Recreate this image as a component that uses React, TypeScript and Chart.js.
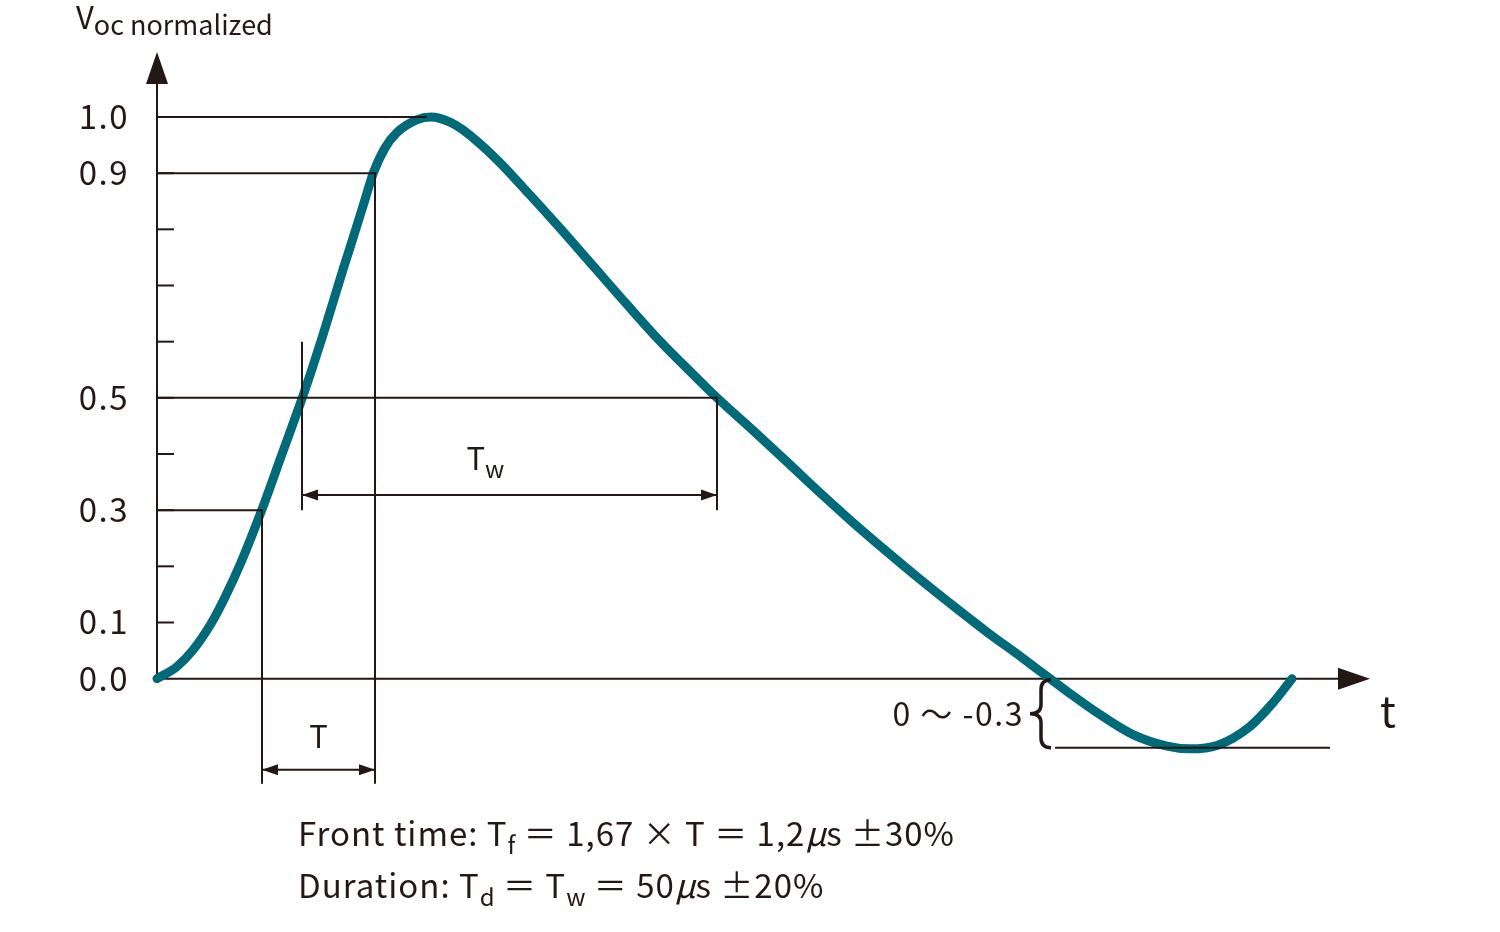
import { useEffect, useRef } from 'react';
import { Chart, registerables } from 'chart.js';

Chart.register(...registerables);

// waveform samples (t in arbitrary units, Voc normalized)
const tValues = [
  0, 1.97, 3.6, 5.47, 6.8, 8.47, 10.47, 12.5, 14.53, 15.57, 16.63, 17.63, 18.63, 19.7, 20.7,
  21.63, 22.8, 23.97, 25.97, 27.4, 29.3, 30.6, 34.0, 37.3, 40.6, 43.6, 47.0, 50.3, 53.6, 56.0,
  59.6, 63.0, 66.3, 69.6, 73.0, 76.3, 79.6, 83.0, 86.3, 89.3, 91.0, 94.3, 97.6, 101.0, 103.3,
  106.0, 109.3, 111.6, 113.5,
];
const vocValues = [
  0, 0.021, 0.051, 0.1, 0.145, 0.21, 0.3, 0.4, 0.5, 0.555, 0.614, 0.672, 0.73, 0.79, 0.847,
  0.9, 0.945, 0.972, 0.995, 1.0, 0.991, 0.977, 0.924, 0.861, 0.796, 0.735, 0.666, 0.601, 0.542, 0.5,
  0.442, 0.386, 0.331, 0.278, 0.226, 0.177, 0.13, 0.083, 0.04, 0, -0.0225, -0.064, -0.0996, -0.12, -0.125,
  -0.119, -0.085, -0.043, 0,
];

// axis
const yTickMarks = [0.1, 0.2, 0.3, 0.4, 0.5, 0.6, 0.7, 0.8, 0.9];
const yTickLabels = ['1.0', '0.9', '0.5', '0.3', '0.1', '0.0'];
const T_MAX = 121.3;
const V_MIN = -0.2;
const V_MAX = 1.1157;

// guide levels and where they meet the curve
const guideLevels = [1.0, 0.9, 0.5, 0.3];
const guideTimes = [27.0, 21.8, 56.0, 10.5];
const guideDropTo = [null, -0.187, 0.3, -0.187];
const twStartTime = 14.5;
const twMarkerTop = 0.6;
const twArrowLevel = 0.327;
const tArrowLevel = -0.162;
const undershoot = -0.123;
const undershootTimes = [89.8, 117.3];
const braceTime = 89.4;

const ink = '#231815';
const teal = '#006a78';
const FONT = '"Noto Sans CJK JP", "Noto Sans", sans-serif';

type Part = { text: string; size: number; dy?: number; italic?: boolean; spacing?: number };

function setFont(ctx: CanvasRenderingContext2D, p: Part) {
  ctx.font = `${p.italic ? 'italic ' : ''}${p.size}px ${FONT}`;
  (ctx as any).letterSpacing = `${p.spacing || 0}px`;
}

function richWidth(ctx: CanvasRenderingContext2D, parts: Part[]) {
  let w = 0;
  for (const p of parts) {
    setFont(ctx, p);
    w += ctx.measureText(p.text).width;
  }
  return w;
}

function drawRich(ctx: CanvasRenderingContext2D, parts: Part[], x: number, y: number, align = 'left') {
  let cx = x;
  const w = richWidth(ctx, parts);
  if (align === 'center') cx = x - w / 2;
  if (align === 'right') cx = x - w;
  ctx.textAlign = 'left';
  ctx.textBaseline = 'alphabetic';
  for (const p of parts) {
    setFont(ctx, p);
    ctx.fillText(p.text, cx, y + (p.dy || 0));
    cx += ctx.measureText(p.text).width;
  }
  (ctx as any).letterSpacing = '0px';
}

function seg(ctx: CanvasRenderingContext2D, x1: number, y1: number, x2: number, y2: number) {
  ctx.beginPath();
  ctx.moveTo(x1, y1);
  ctx.lineTo(x2, y2);
  ctx.stroke();
}

// filled arrow head, tip at (x, y), pointing in direction (dx, dy)
function head(ctx: CanvasRenderingContext2D, x: number, y: number, dx: number, dy: number, len: number, half: number) {
  const nx = -dy;
  const ny = dx;
  ctx.beginPath();
  ctx.moveTo(x, y);
  ctx.lineTo(x - dx * len + nx * half, y - dy * len + ny * half);
  ctx.lineTo(x - dx * len - nx * half, y - dy * len - ny * half);
  ctx.closePath();
  ctx.fill();
}

const diagramPlugin = {
  id: 'diagram',
  beforeDatasetsDraw(chart: any) {
    const { ctx, scales } = chart;
    const px = (v: number) => scales.x.getPixelForValue(v);
    const py = (v: number) => scales.y.getPixelForValue(v);
    const x0 = px(0);
    const y0 = py(0);
    ctx.save();
    ctx.strokeStyle = ink;
    ctx.fillStyle = ink;
    ctx.lineWidth = 2;

    // axes with arrows
    seg(ctx, x0, y0, x0, py(V_MAX) + 28);
    head(ctx, x0, py(V_MAX), 0, -1, 32, 11);
    seg(ctx, x0, y0, px(T_MAX) - 28, y0);
    head(ctx, px(T_MAX), y0, 1, 0, 32, 11);

    // tick marks
    yTickMarks.forEach((v) => seg(ctx, x0, py(v), x0 + 17, py(v)));

    // tick labels
    yTickLabels.forEach((s) => {
      drawRich(ctx, [{ text: s, size: 33, spacing: 1.5 }], x0 - 28, py(parseFloat(s)) + 12, 'right');
    });
    ctx.restore();
  },
  afterDatasetsDraw(chart: any) {
    const { ctx, scales } = chart;
    const px = (v: number) => scales.x.getPixelForValue(v);
    const py = (v: number) => scales.y.getPixelForValue(v);
    const x0 = px(0);
    ctx.save();
    ctx.strokeStyle = ink;
    ctx.fillStyle = ink;
    ctx.lineWidth = 2;

    // level lines and drops
    guideLevels.forEach((v, i) => {
      seg(ctx, x0, py(v), px(guideTimes[i]), py(v));
      const d = guideDropTo[i];
      if (d !== null) seg(ctx, px(guideTimes[i]), py(v) - 1, px(guideTimes[i]), py(d));
    });
    seg(ctx, px(twStartTime), py(twMarkerTop), px(twStartTime), py(0.3));

    // Tw dimension
    const twY = py(twArrowLevel);
    seg(ctx, px(twStartTime), twY, px(guideTimes[2]), twY);
    head(ctx, px(twStartTime), twY, -1, 0, 16, 5.5);
    head(ctx, px(guideTimes[2]), twY, 1, 0, 16, 5.5);

    // T dimension
    const tY = py(tArrowLevel);
    seg(ctx, px(guideTimes[3]), tY, px(guideTimes[1]), tY);
    head(ctx, px(guideTimes[3]), tY, -1, 0, 16, 5.5);
    head(ctx, px(guideTimes[1]), tY, 1, 0, 16, 5.5);

    // undershoot line
    seg(ctx, px(undershootTimes[0]), py(undershoot), px(undershootTimes[1]), py(undershoot));

    // brace
    const xr = px(braceTime);
    const xm = xr - 10;
    const xt = xr - 21;
    const yt = py(0) + 1;
    const yb = py(undershoot);
    const ym = (yt + yb) / 2;
    ctx.lineWidth = 3.5;
    ctx.beginPath();
    ctx.moveTo(xr, yt);
    ctx.quadraticCurveTo(xm, yt, xm, yt + 10);
    ctx.lineTo(xm, ym - 9);
    ctx.quadraticCurveTo(xm, ym, xt, ym);
    ctx.quadraticCurveTo(xm, ym, xm, ym + 9);
    ctx.lineTo(xm, yb - 10);
    ctx.quadraticCurveTo(xm, yb, xr, yb);
    ctx.stroke();

    // texts
    drawRich(ctx, [{ text: '0 ～ -0.3', size: 32, spacing: 1.5 }], xt - 6, ym + 12, 'right');
    drawRich(ctx, [{ text: 't', size: 42 }], px(T_MAX) + 18, py(0) + 48, 'center');
    drawRich(ctx, [{ text: 'T', size: 31 }], (px(guideTimes[3]) + px(guideTimes[1])) / 2, tY - 22, 'center');
    drawRich(
      ctx,
      [
        { text: 'T', size: 31 },
        { text: 'w', size: 24, dy: 8 },
      ],
      (px(twStartTime) + px(guideTimes[2])) / 2 - 43,
      twY - 25,
    );
    drawRich(
      ctx,
      [
        { text: 'V', size: 31 },
        { text: 'oc normalized', size: 27, dy: 6 },
      ],
      x0 - 81,
      29,
    );
    drawRich(
      ctx,
      [
        { text: 'Front time: T', size: 33, spacing: 1 },
        { text: 'f', size: 24, dy: 8 },
        { text: ' ＝ 1,67 × T ＝ 1,2', size: 33, spacing: 1 },
        { text: 'μ', size: 33, italic: true },
        { text: 's ±30%', size: 33, spacing: 1 },
      ],
      298,
      846,
    );
    drawRich(
      ctx,
      [
        { text: 'Duration: T', size: 33, spacing: 1 },
        { text: 'd', size: 24, dy: 8 },
        { text: ' ＝ T', size: 33, spacing: 1 },
        { text: 'w', size: 24, dy: 8 },
        { text: ' ＝ 50', size: 33, spacing: 1 },
        { text: 'μ', size: 33, italic: true },
        { text: 's ±20%', size: 33, spacing: 1 },
      ],
      298,
      898,
    );
    ctx.restore();
  },
};

function WaveformChart() {
  const canvasRef = useRef<HTMLCanvasElement | null>(null);

  useEffect(() => {
    if (!canvasRef.current) return;
    const chart = new Chart(canvasRef.current, {
      type: 'line',
      data: {
        datasets: [
          {
            data: tValues.map((t, i) => ({ x: t, y: vocValues[i] })),
            borderColor: teal,
            borderWidth: 9,
            borderCapStyle: 'round',
            borderJoinStyle: 'round',
            pointRadius: 0,
            cubicInterpolationMode: 'monotone',
            fill: false,
            clip: false,
          } as any,
        ],
      },
      options: {
        animation: false,
        responsive: true,
        maintainAspectRatio: false,
        events: [],
        layout: { padding: { left: 157, right: 130, top: 52, bottom: 141 } },
        scales: {
          x: { type: 'linear', min: 0, max: T_MAX, display: false },
          y: { type: 'linear', min: V_MIN, max: V_MAX, display: false },
        },
        plugins: { legend: { display: false }, tooltip: { enabled: false } },
      },
      plugins: [diagramPlugin],
    });
    return () => chart.destroy();
  }, []);

  return (
    <div style={{ position: 'absolute', left: 0, top: 0, width: 1500, height: 932, background: '#fff' }}>
      <canvas ref={canvasRef} />
    </div>
  );
}

export default function App() {
  return <WaveformChart />;
}
